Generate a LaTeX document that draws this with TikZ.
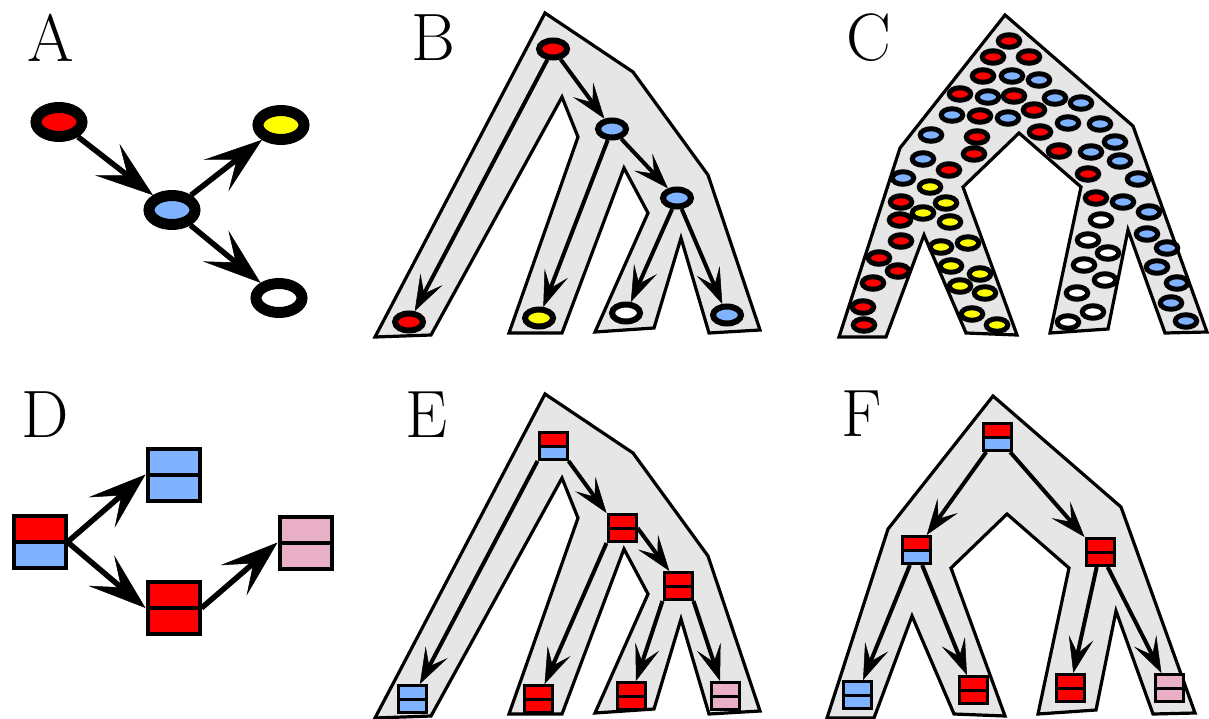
\documentclass[tikz,border=0pt]{standalone}
\usepackage{fontspec}
\usepackage{xcolor}
\usetikzlibrary{arrows.meta}
\usetikzlibrary{shapes.geometric}
\definecolor{cellred}{HTML}{FF0000}
\definecolor{cellblue}{HTML}{80B3FF}
\definecolor{cellyellow}{HTML}{FFFF00}
\definecolor{cellpink}{HTML}{E9AFC6}
\definecolor{treegray}{HTML}{E6E6E6}
\tikzstyle{panel} =[
    anchor=base west,
    inner sep=0pt,
    font=\fontsize{67}{67}\selectfont
    ]
\tikzstyle{tree} =[
    draw=black,
    fill=treegray,
    line width=3.2pt,
    line join=miter
    ]
\tikzstyle{bigdot} =[ellipse, draw=black, line width=11pt,
    minimum width=46pt, minimum height=29pt, inner sep=0pt]
\tikzstyle{middot} =[ellipse, draw=black, line width=6pt,
    minimum width=28pt, minimum height=17pt, inner sep=0pt]
\tikzstyle{smalldot} =[ellipse, draw=black, line width=5pt,
    minimum width=21.5pt, minimum height=12.5pt, inner sep=0pt]
\tikzstyle{bigcell} =[rectangle, draw=black, line width=4pt,
    minimum width=52pt, minimum height=52pt, inner sep=0pt]
\tikzstyle{smallcell} =[rectangle, draw=black, line width=3pt,
    minimum width=28pt, minimum height=27pt, inner sep=0pt]
\tikzstyle{bigarrow} =[line width=5.5pt,
    -{Stealth[length=58pt,width=40pt,inset=26pt,line width=0.5pt]}]
\tikzstyle{smallarrow} =[line width=4pt,
    -{Stealth[length=36pt,width=25pt,inset=16pt,line width=0.5pt]}]
\tikzset{
    halves/.style 2 args={path picture={
        \fill[#1] (path picture bounding box.north west) rectangle (path picture bounding box.east);
        \fill[#2] (path picture bounding box.west) rectangle (path picture bounding box.south east);
        \draw (path picture bounding box.west) -- (path picture bounding box.east);
    }}
}

\begin{document}
\begin{tikzpicture}[x=1pt,y=-1pt]
\useasboundingbox (0,0) rectangle (1209,719);

% panel letters
\node[panel] (labA) at (27,62) {A};
\node[panel] (labB) at (411,61) {B};
\node[panel] (labC) at (846,61) {C};
\node[panel] (labD) at (21,437) {D};
\node[panel] (labE) at (405,437) {E};
\node[panel] (labF) at (841,436) {F};

% A
\node[bigdot, fill=cellred] (a0) at (59,122) {};
\node[bigdot, fill=cellblue] (a1) at (172,210) {};
\node[bigdot, fill=cellyellow] (a2) at (281,125) {};
\node[bigdot, fill=white] (a3) at (279,298) {};
\draw[bigarrow] (a0) -- (a1);
\draw[bigarrow] (a1) -- (a2);
\draw[bigarrow] (a1) -- (a3);

% B
\draw[tree] (545,13) -- (633,72) -- (708,175) -- (760,330) -- (709,333)
    -- (681,238) -- (654,328) -- (595,332) -- (648,213) -- (624,168)
    -- (562,333) -- (509,333) -- (578,137) -- (562,97) -- (431,335)
    -- (375,337) -- cycle;
\node[middot, fill=cellred] (b0) at (553,49) {};
\node[middot, fill=cellblue] (b1) at (612,129) {};
\node[middot, fill=cellblue] (b2) at (677,198) {};
\node[middot, fill=cellred] (b3) at (409,322) {};
\node[middot, fill=cellyellow] (b4) at (539,318) {};
\node[middot, fill=white] (b5) at (626,313) {};
\node[middot, fill=cellblue] (b6) at (727,315) {};
\draw[smallarrow] (b0) -- (b3);
\draw[smallarrow] (b0) -- (b1);
\draw[smallarrow] (b1) -- (b4);
\draw[smallarrow] (b1) -- (b2);
\draw[smallarrow] (b2) -- (b5);
\draw[smallarrow] (b2) -- (b6);

% C
\draw[tree] (1005,15) -- (1133,126) -- (1207,332) -- (1165,333)
    -- (1128,230) -- (1108,329) -- (1050,333) -- (1081,187) -- (1019,133)
    -- (963,187) -- (1017,335) -- (966,333) -- (924,235) -- (886,337)
    -- (839,337) -- (900,148) -- cycle;
\foreach \x/\y [count=\i] in {1009/41, 993/57, 1029/57, 983/76, 960/94,
    1014/96, 980/116, 1034/110, 977/137, 1040/132, 974/154, 949/170,
    1059/151, 1088/174, 1096/198, 901/202, 900/220, 901/241, 879/258,
    898/271, 873/283, 863/307, 864/325}
    \node[smalldot, fill=cellred] (cr\i) at (\x,\y) {};
\foreach \x/\y [count=\i] in {1012/76, 1039/80, 988/97, 1055/98, 1081/103,
    952/115, 1008/118, 1068/123, 1100/124, 931/135, 1115/142, 1091/152,
    1120/161, 923/159, 903/178, 1138/179, 1123/202, 1149/212, 1147/234,
    1167/248, 1157/267, 1177/283, 1171/303, 1186/321}
    \node[smalldot, fill=cellblue] (cb\i) at (\x,\y) {};
\foreach \x/\y [count=\i] in {930/187, 946/203, 923/213, 950/222, 941/247,
    968/243, 951/266, 980/274, 960/286, 985/293, 972/314, 997/325}
    \node[smalldot, fill=cellyellow] (cy\i) at (\x,\y) {};
\foreach \x/\y [count=\i] in {1101/220, 1088/240, 1108/253, 1084/265,
    1105/280, 1077/293, 1093/312, 1068/322}
    \node[smalldot, fill=white] (cw\i) at (\x,\y) {};

% D
\node[bigcell, halves={cellred}{cellblue}] (d0) at (39.5,542) {};
\node[bigcell, halves={cellblue}{cellblue}] (d1) at (173.5,474.5) {};
\node[bigcell, halves={cellred}{cellred}] (d2) at (173.5,608) {};
\node[bigcell, halves={cellpink}{cellpink}] (d3) at (305.5,542.5) {};
\draw[bigarrow] (d0.east) -- (d1.west);
\draw[bigarrow] (d0.east) -- (d2.west);
\draw[bigarrow] (d2.east) -- (d3.west);

% E
\begin{scope}[shift={(0,381)}]
\draw[tree] (545,13) -- (633,72) -- (708,175) -- (760,330) -- (709,333)
    -- (681,238) -- (654,328) -- (595,332) -- (648,213) -- (624,168)
    -- (562,333) -- (509,333) -- (578,137) -- (562,97) -- (431,335)
    -- (375,337) -- cycle;
\end{scope}
\node[smallcell, halves={cellred}{cellblue}] (e0) at (553,446) {};
\node[smallcell, halves={cellred}{cellred}] (e1) at (622,528) {};
\node[smallcell, halves={cellred}{cellred}] (e2) at (678,586) {};
\node[smallcell, halves={cellblue}{cellblue}] (e3) at (412,699) {};
\node[smallcell, halves={cellred}{cellred}] (e4) at (538,699) {};
\node[smallcell, halves={cellred}{cellred}] (e5) at (631,696) {};
\node[smallcell, halves={cellpink}{cellpink}] (e6) at (725,696) {};
\draw[smallarrow] (e0.south west) -- (e3);
\draw[smallarrow] (e0.south east) -- (e1.north west);
\draw[smallarrow] (e1.south west) -- (e4);
\draw[smallarrow] (e1.east) -- (e2.120);
\draw[smallarrow] (e2.south west) -- (e5);
\draw[smallarrow] (e2.south east) -- (e6);

% F
\begin{scope}[shift={(-12,381)}]
\draw[tree] (1005,15) -- (1133,126) -- (1207,332) -- (1165,333)
    -- (1128,230) -- (1108,329) -- (1050,333) -- (1081,187) -- (1019,133)
    -- (963,187) -- (1017,335) -- (966,333) -- (924,235) -- (886,337)
    -- (839,337) -- (900,148) -- cycle;
\end{scope}
\node[smallcell, halves={cellred}{cellblue}] (f0) at (997,437) {};
\node[smallcell, halves={cellred}{cellblue}] (f1) at (916,550) {};
\node[smallcell, halves={cellred}{cellred}] (f2) at (1100,552) {};
\node[smallcell, halves={cellblue}{cellblue}] (f3) at (857,695) {};
\node[smallcell, halves={cellred}{cellred}] (f4) at (973,690) {};
\node[smallcell, halves={cellred}{cellred}] (f5) at (1070,688) {};
\node[smallcell, halves={cellpink}{cellpink}] (f6) at (1169,688) {};
\draw[smallarrow] (f0) -- (f1);
\draw[smallarrow] (f0) -- (f2.north west);
\draw[smallarrow] (f1) -- (f3);
\draw[smallarrow] (f1) -- (f4);
\draw[smallarrow] (f2) -- (f5);
\draw[smallarrow] (f2) -- (f6);
\end{tikzpicture}
\end{document}
